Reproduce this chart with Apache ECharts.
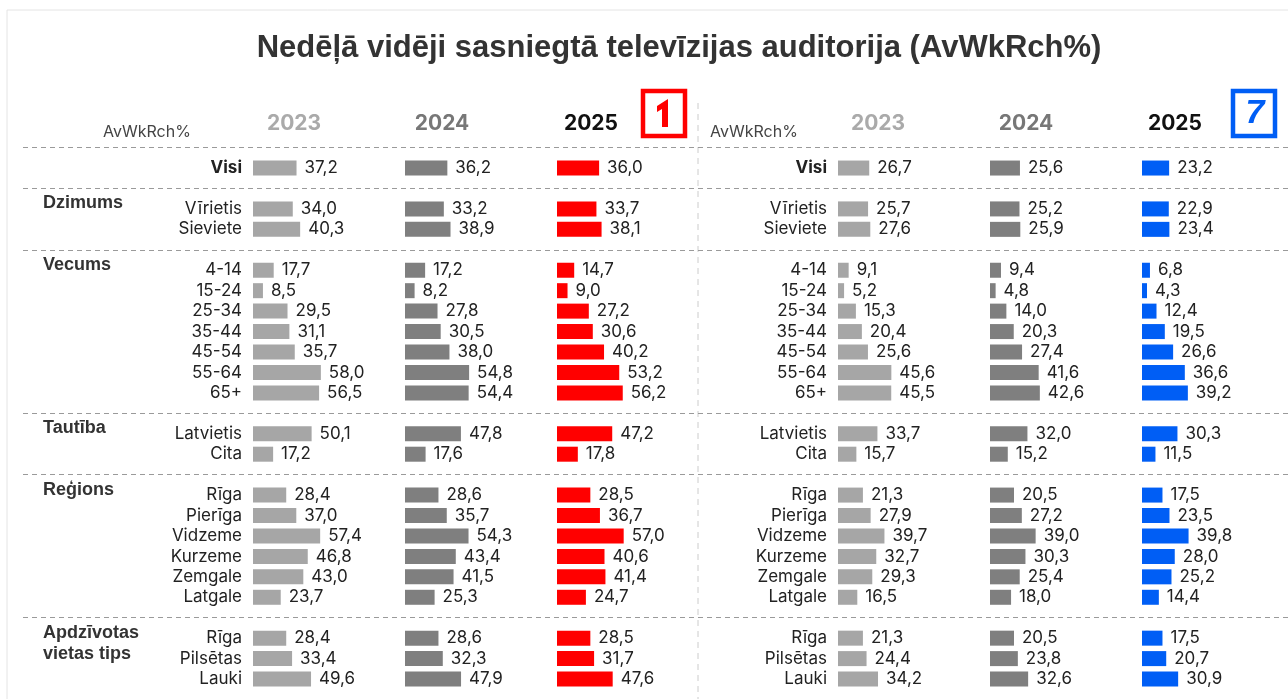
<!DOCTYPE html>
<html>
<head>
<meta charset="utf-8">
<title>Nedēļā vidēji sasniegtā televīzijas auditorija</title>
<script src="https://cdn.jsdelivr.net/npm/echarts@6/dist/echarts.min.js"></script>
<style>
  html, body { margin: 0; padding: 0; background: #fff; }
  #chart { width: 1288px; height: 699px; }
</style>
</head>
<body>
<div id="chart"></div>
<script>
const groups = ['', 'Dzimums', 'Vecums', 'Tautība', 'Reģions', 'Apdzīvotas\nvietas tips'];
const rows = [
  ['Visi'],
  ['Vīrietis', 'Sieviete'],
  ['4-14', '15-24', '25-34', '35-44', '45-54', '55-64', '65+'],
  ['Latvietis', 'Cita'],
  ['Rīga', 'Pierīga', 'Vidzeme', 'Kurzeme', 'Zemgale', 'Latgale'],
  ['Rīga', 'Pilsētas', 'Lauki']
];
const years = ['2023', '2024', '2025'];

// LTV1 (sarkanais)
const ltv2023 = [37.2, 34.0, 40.3, 17.7, 8.5, 29.5, 31.1, 35.7, 58.0, 56.5, 50.1, 17.2, 28.4, 37.0, 57.4, 46.8, 43.0, 23.7, 28.4, 33.4, 49.6];
const ltv2024 = [36.2, 33.2, 38.9, 17.2, 8.2, 27.8, 30.5, 38.0, 54.8, 54.4, 47.8, 17.6, 28.6, 35.7, 54.3, 43.4, 41.5, 25.3, 28.6, 32.3, 47.9];
const ltv2025 = [36.0, 33.7, 38.1, 14.7, 9.0, 27.2, 30.6, 40.2, 53.2, 56.2, 47.2, 17.8, 28.5, 36.7, 57.0, 40.6, 41.4, 24.7, 28.5, 31.7, 47.6];
// TV3 (zilais)
const tv2023 = [26.7, 25.7, 27.6, 9.1, 5.2, 15.3, 20.4, 25.6, 45.6, 45.5, 33.7, 15.7, 21.3, 27.9, 39.7, 32.7, 29.3, 16.5, 21.3, 24.4, 34.2];
const tv2024 = [25.6, 25.2, 25.9, 9.4, 4.8, 14.0, 20.3, 27.4, 41.6, 42.6, 32.0, 15.2, 20.5, 27.2, 39.0, 30.3, 25.4, 18.0, 20.5, 23.8, 32.6];
const tv2025 = [23.2, 22.9, 23.4, 6.8, 4.3, 12.4, 19.5, 26.6, 36.6, 39.2, 30.3, 11.5, 17.5, 23.5, 39.8, 28.0, 25.2, 14.4, 17.5, 20.7, 30.9];

const FONT = 'Inter, Roboto, sans-serif';
const P = 20.44;          // rindas solis
const Y0 = 147.6;         // pirmās (atdalītāja) rindas centrs

// rindas ar tukšu rindu (atdalītāju) pirms katras grupas
const slots = [];
groups.forEach((g, gi) => {
  slots.push({ gap: true });
  rows[gi].forEach((r, ri) => slots.push({ label: r, group: ri === 0 ? g : '', bold: gi === 0 }));
});
const slotKeys = slots.map((s, i) => 's' + i);
function toSlots(vals) {
  let k = 0;
  return slots.map(s => (s.gap ? '-' : vals[k++]));
}

const panels = [
  { left: 253, data: ltv2023, color: '#a6a6a6', labels: true },
  { left: 405, data: ltv2024, color: '#7f7f7f' },
  { left: 557, data: ltv2025, color: '#ff0000' },
  { left: 838, data: tv2023, color: '#a6a6a6', labels: true },
  { left: 990, data: tv2024, color: '#7f7f7f' },
  { left: 1142, data: tv2025, color: '#005ef5' }
];
const yearX = [294, 442, 591, 878, 1026, 1175];
const yearColor = ['#aaaaaa', '#777777', '#111111'];

const grid = [], xAxis = [], yAxis = [], series = [];

panels.forEach((p, i) => {
  grid.push({ left: p.left, width: 117, top: Y0 - P / 2, height: slots.length * P });
  xAxis.push({ gridIndex: i, type: 'value', min: 0, max: 100, show: false });
  yAxis.push({
    gridIndex: i,
    type: 'category',
    data: slotKeys,
    inverse: true,
    axisLine: { show: false },
    axisTick: { show: false },
    splitLine: { show: false },
    axisLabel: {
      show: !!p.labels,
      interval: 0,
      margin: 11,
      fontFamily: FONT,
      fontSize: 17,
      color: '#222',
      formatter: (v, idx) => {
        const s = slots[idx];
        if (s.gap) return '';
        return s.bold ? '{b|' + s.label + '}' : s.label;
      },
      rich: { b: { fontFamily: FONT, fontSize: 17, fontWeight: 'bold', color: '#222' } }
    }
  });
  series.push({
    type: 'bar',
    xAxisIndex: i,
    yAxisIndex: i,
    data: toSlots(p.data),
    barWidth: 15,
    itemStyle: { color: p.color },
    label: {
      show: true,
      position: 'right',
      distance: 8,
      fontFamily: FONT,
      fontSize: 17,
      color: '#222',
      formatter: d => d.value.toFixed(1).replace('.', ',')
    }
  });
});

// dalītājlīnijas
grid.push({ left: 23, right: 0, top: Y0, height: (slots.length - 1) * P });
xAxis.push({ gridIndex: 6, type: 'value', show: false });
yAxis.push({
  gridIndex: 6,
  type: 'category',
  data: slotKeys,
  inverse: true,
  boundaryGap: false,
  axisLine: { show: false },
  axisTick: { show: false },
  axisLabel: { show: false },
  splitLine: {
    show: true,
    interval: idx => !!slots[idx].gap,
    lineStyle: { color: '#9a9a9a', width: 1, type: [5, 4] }
  }
});

// grupu nosaukumi
grid.push({ left: 43, width: 10, top: Y0 - 16, height: (slots.length - 1) * P });
xAxis.push({ gridIndex: 7, type: 'value', show: false });
yAxis.push({
  gridIndex: 7,
  type: 'category',
  data: slotKeys,
  inverse: true,
  boundaryGap: false,
  axisLine: { show: false },
  axisTick: { show: false },
  splitLine: { show: false },
  axisLabel: {
    interval: 0,
    margin: 0,
    align: 'left',
    verticalAlign: 'top',
    lineHeight: 21,
    fontFamily: '"Liberation Sans", Arial, sans-serif',
    fontWeight: 'bold',
    fontSize: 18,
    color: '#333',
    formatter: (v, idx) => (slots[idx].group || '')
  }
});

const graphic = [
  { type: 'rect', shape: { x: 7, y: 10, width: 1300, height: 720 }, style: { fill: 'none', stroke: '#e4e4e4', lineWidth: 1 }, silent: true },
  { type: 'line', shape: { x1: 698, y1: 103, x2: 698, y2: 699 }, style: { stroke: '#cccccc', lineWidth: 1, lineDash: [6, 5] }, silent: true },
  {
    type: 'text', x: 679, y: 48,
    style: {
      text: 'Nedēļā vidēji sasniegtā televīzijas auditorija (AvWkRch%)',
      fontFamily: '"Liberation Sans Narrow", "Liberation Sans", Arial, sans-serif',
      fontWeight: 'bold', fontSize: 31, fill: '#333',
      textAlign: 'center', textVerticalAlign: 'middle'
    }
  },
  { type: 'text', x: 103, y: 132, style: { text: 'AvWkRch%', fontFamily: FONT, fontSize: 16, fill: '#444', textVerticalAlign: 'middle' } },
  { type: 'text', x: 710, y: 132, style: { text: 'AvWkRch%', fontFamily: FONT, fontSize: 16, fill: '#444', textVerticalAlign: 'middle' } },
  // LTV1 logo
  { type: 'rect', shape: { x: 643, y: 91, width: 42, height: 45 }, style: { fill: '#fff', stroke: '#ff0000', lineWidth: 4.5 } },
  { type: 'polygon', shape: { points: [[668, 99], [668, 127], [662, 127], [662, 109], [657, 112], [657, 106]] }, style: { fill: '#ff0000' } },
  // TV3 logo
  { type: 'rect', shape: { x: 1233, y: 91, width: 42, height: 45 }, style: { fill: '#fff', stroke: '#005ef5', lineWidth: 4.5 } },
  {
    type: 'text', x: 1255, y: 114,
    style: { text: '7', fontFamily: '"Liberation Sans", Arial, sans-serif', fontWeight: 'bold', fontStyle: 'italic', fontSize: 34, fill: '#005ef5', textAlign: 'center', textVerticalAlign: 'middle' }
  }
];
yearX.forEach((x, i) => {
  graphic.push({
    type: 'text', x: x, y: 124,
    style: {
      text: years[i % 3], fontFamily: FONT, fontWeight: 'bold', fontSize: 21,
      fill: yearColor[i % 3], textAlign: 'center', textVerticalAlign: 'middle'
    }
  });
});

const chart = echarts.init(document.getElementById('chart'));
chart.setOption({
  animation: false,
  backgroundColor: '#fff',
  grid: grid,
  xAxis: xAxis,
  yAxis: yAxis,
  series: series,
  graphic: graphic
});
</script>
</body>
</html>
